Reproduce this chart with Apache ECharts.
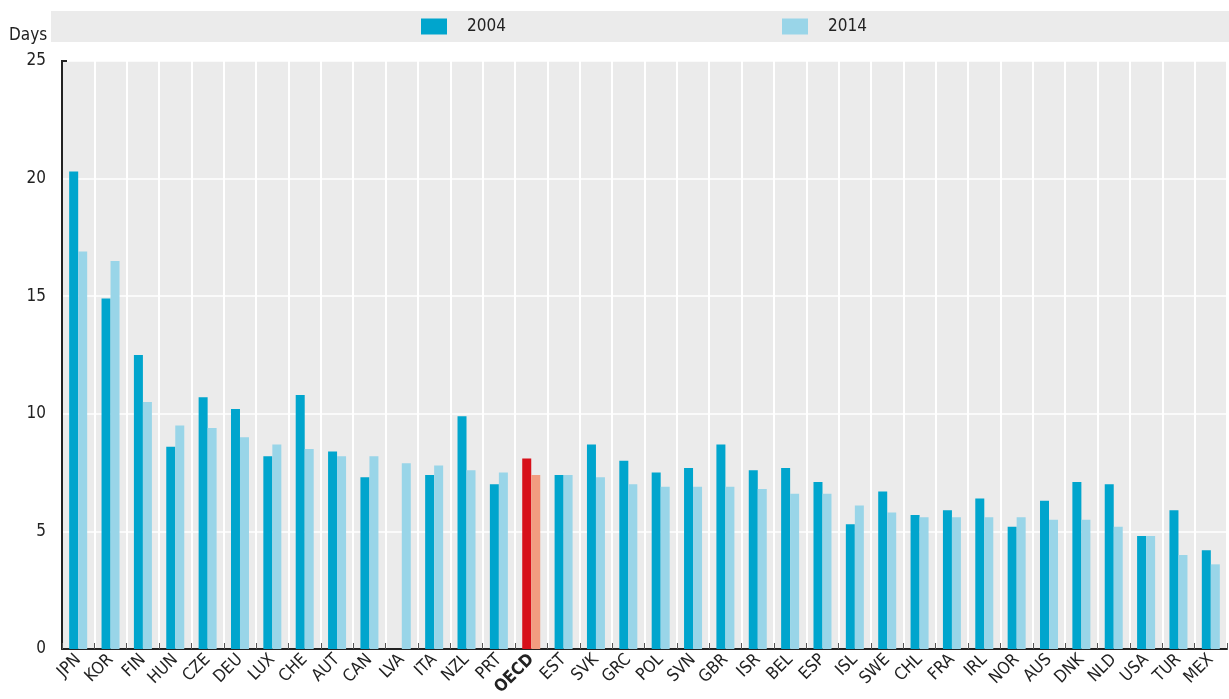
<!DOCTYPE html>
<html>
<head>
<meta charset="utf-8">
<script src="https://cdn.jsdelivr.net/npm/echarts@6/dist/echarts.min.js"></script>
<style>
html,body{margin:0;padding:0;background:#fff;}
#chart{width:1229px;height:699px;}
</style>
</head>
<body>
<div id="chart"></div>
<script>
const categories = ['JPN','KOR','FIN','HUN','CZE','DEU','LUX','CHE','AUT','CAN','LVA','ITA','NZL','PRT','OECD','EST','SVK','GRC','POL','SVN','GBR','ISR','BEL','ESP','ISL','SWE','CHL','FRA','IRL','NOR','AUS','DNK','NLD','USA','TUR','MEX'];
const values2004 = [20.3,14.9,12.5,8.6,10.7,10.2,8.2,10.8,8.4,7.3,null,7.4,9.9,7.0,8.1,7.4,8.7,8.0,7.5,7.7,8.7,7.6,7.7,7.1,5.3,6.7,5.7,5.9,6.4,5.2,6.3,7.1,7.0,4.8,5.9,4.2];
const values2014 = [16.9,16.5,10.5,9.5,9.4,9.0,8.7,8.5,8.2,8.2,7.9,7.8,7.6,7.5,7.4,7.4,7.3,7.0,6.9,6.9,6.9,6.8,6.6,6.6,6.1,5.8,5.6,5.6,5.6,5.6,5.5,5.5,5.2,4.8,4.0,3.6];
const yTicks = [0,5,10,15,20,25];
const seriesNames = ['2004','2014'];

const FONT = "'Liberation Sans Narrow','Arial Narrow','DejaVu Sans Condensed',sans-serif";
const C04 = '#00a5cd', C14 = '#99d5e8', C04H = '#d7101a', C14H = '#f29c80';
const highlight = 'OECD';

function build(vals, hi) {
  return vals.map((v, i) => categories[i] === highlight
    ? { value: v, itemStyle: { color: hi } }
    : v);
}

const chart = echarts.init(document.getElementById('chart'), null, {renderer:'canvas'});
chart.setOption({
  animation: false,
  textStyle: { fontFamily: FONT },
  graphic: [
    { type: 'rect', shape: { x: 51, y: 11, width: 1178, height: 31 }, style: { fill: '#ebebeb' }, z: -1 },
    { type: 'text', left: 9, top: 27, style: { text: 'Days', font: '17px ' + FONT, fill: '#222' } },
    { type: 'line', shape: { x1: 61, y1: 61, x2: 67, y2: 61 }, style: { stroke: '#222', lineWidth: 2 }, z: 10 }
  ],
  legend: [
    { data: [seriesNames[0]], left: 421, top: 18, padding: 0, icon: 'rect', itemWidth: 26, itemHeight: 16,
      textStyle: { fontFamily: FONT, fontSize: 17, color: '#222', padding: [0,0,0,15] } },
    { data: [seriesNames[1]], left: 782, top: 18, padding: 0, icon: 'rect', itemWidth: 26, itemHeight: 16,
      textStyle: { fontFamily: FONT, fontSize: 17, color: '#222', padding: [0,0,0,15] } }
  ],
  grid: { left: 62, right: 2, top: 61, bottom: 50, show: true, backgroundColor: '#ebebeb', borderWidth: 0 },
  xAxis: {
    type: 'category',
    data: categories,
    axisLine: { lineStyle: { color: '#222', width: 2 } },
    axisTick: { show: true, inside: true, length: 6, interval: 0, lineStyle: { color: '#555', width: 1 } },
    splitLine: { show: true, interval: 0, lineStyle: { color: '#ffffff', width: 2 } },
    axisLabel: {
      interval: 0, rotate: 45, fontFamily: FONT, fontSize: 17, color: '#222', margin: 8,
      formatter: v => v === highlight ? '{b|' + v + '}' : v,
      rich: { b: { fontWeight: 'bold', fontFamily: FONT, fontSize: 17, color: '#222' } }
    }
  },
  yAxis: {
    type: 'value', min: 0, max: 25, interval: 5,
    axisLine: { show: true, lineStyle: { color: '#222', width: 2 } },
    axisTick: { show: false },
    splitLine: { lineStyle: { color: '#ffffff', width: 1.5 } },
    axisLabel: { fontFamily: FONT, fontSize: 17, color: '#222', margin: 16,
      formatter: v => yTicks.includes(v) ? String(v) : '' }
  },
  series: [
    { name: seriesNames[0], type: 'bar', data: build(values2004, C04H), itemStyle: { color: C04 }, barWidth: 9, barGap: '0%' },
    { name: seriesNames[1], type: 'bar', data: build(values2014, C14H), itemStyle: { color: C14 }, barWidth: 9, barGap: '0%' }
  ]
});
</script>
</body>
</html>
